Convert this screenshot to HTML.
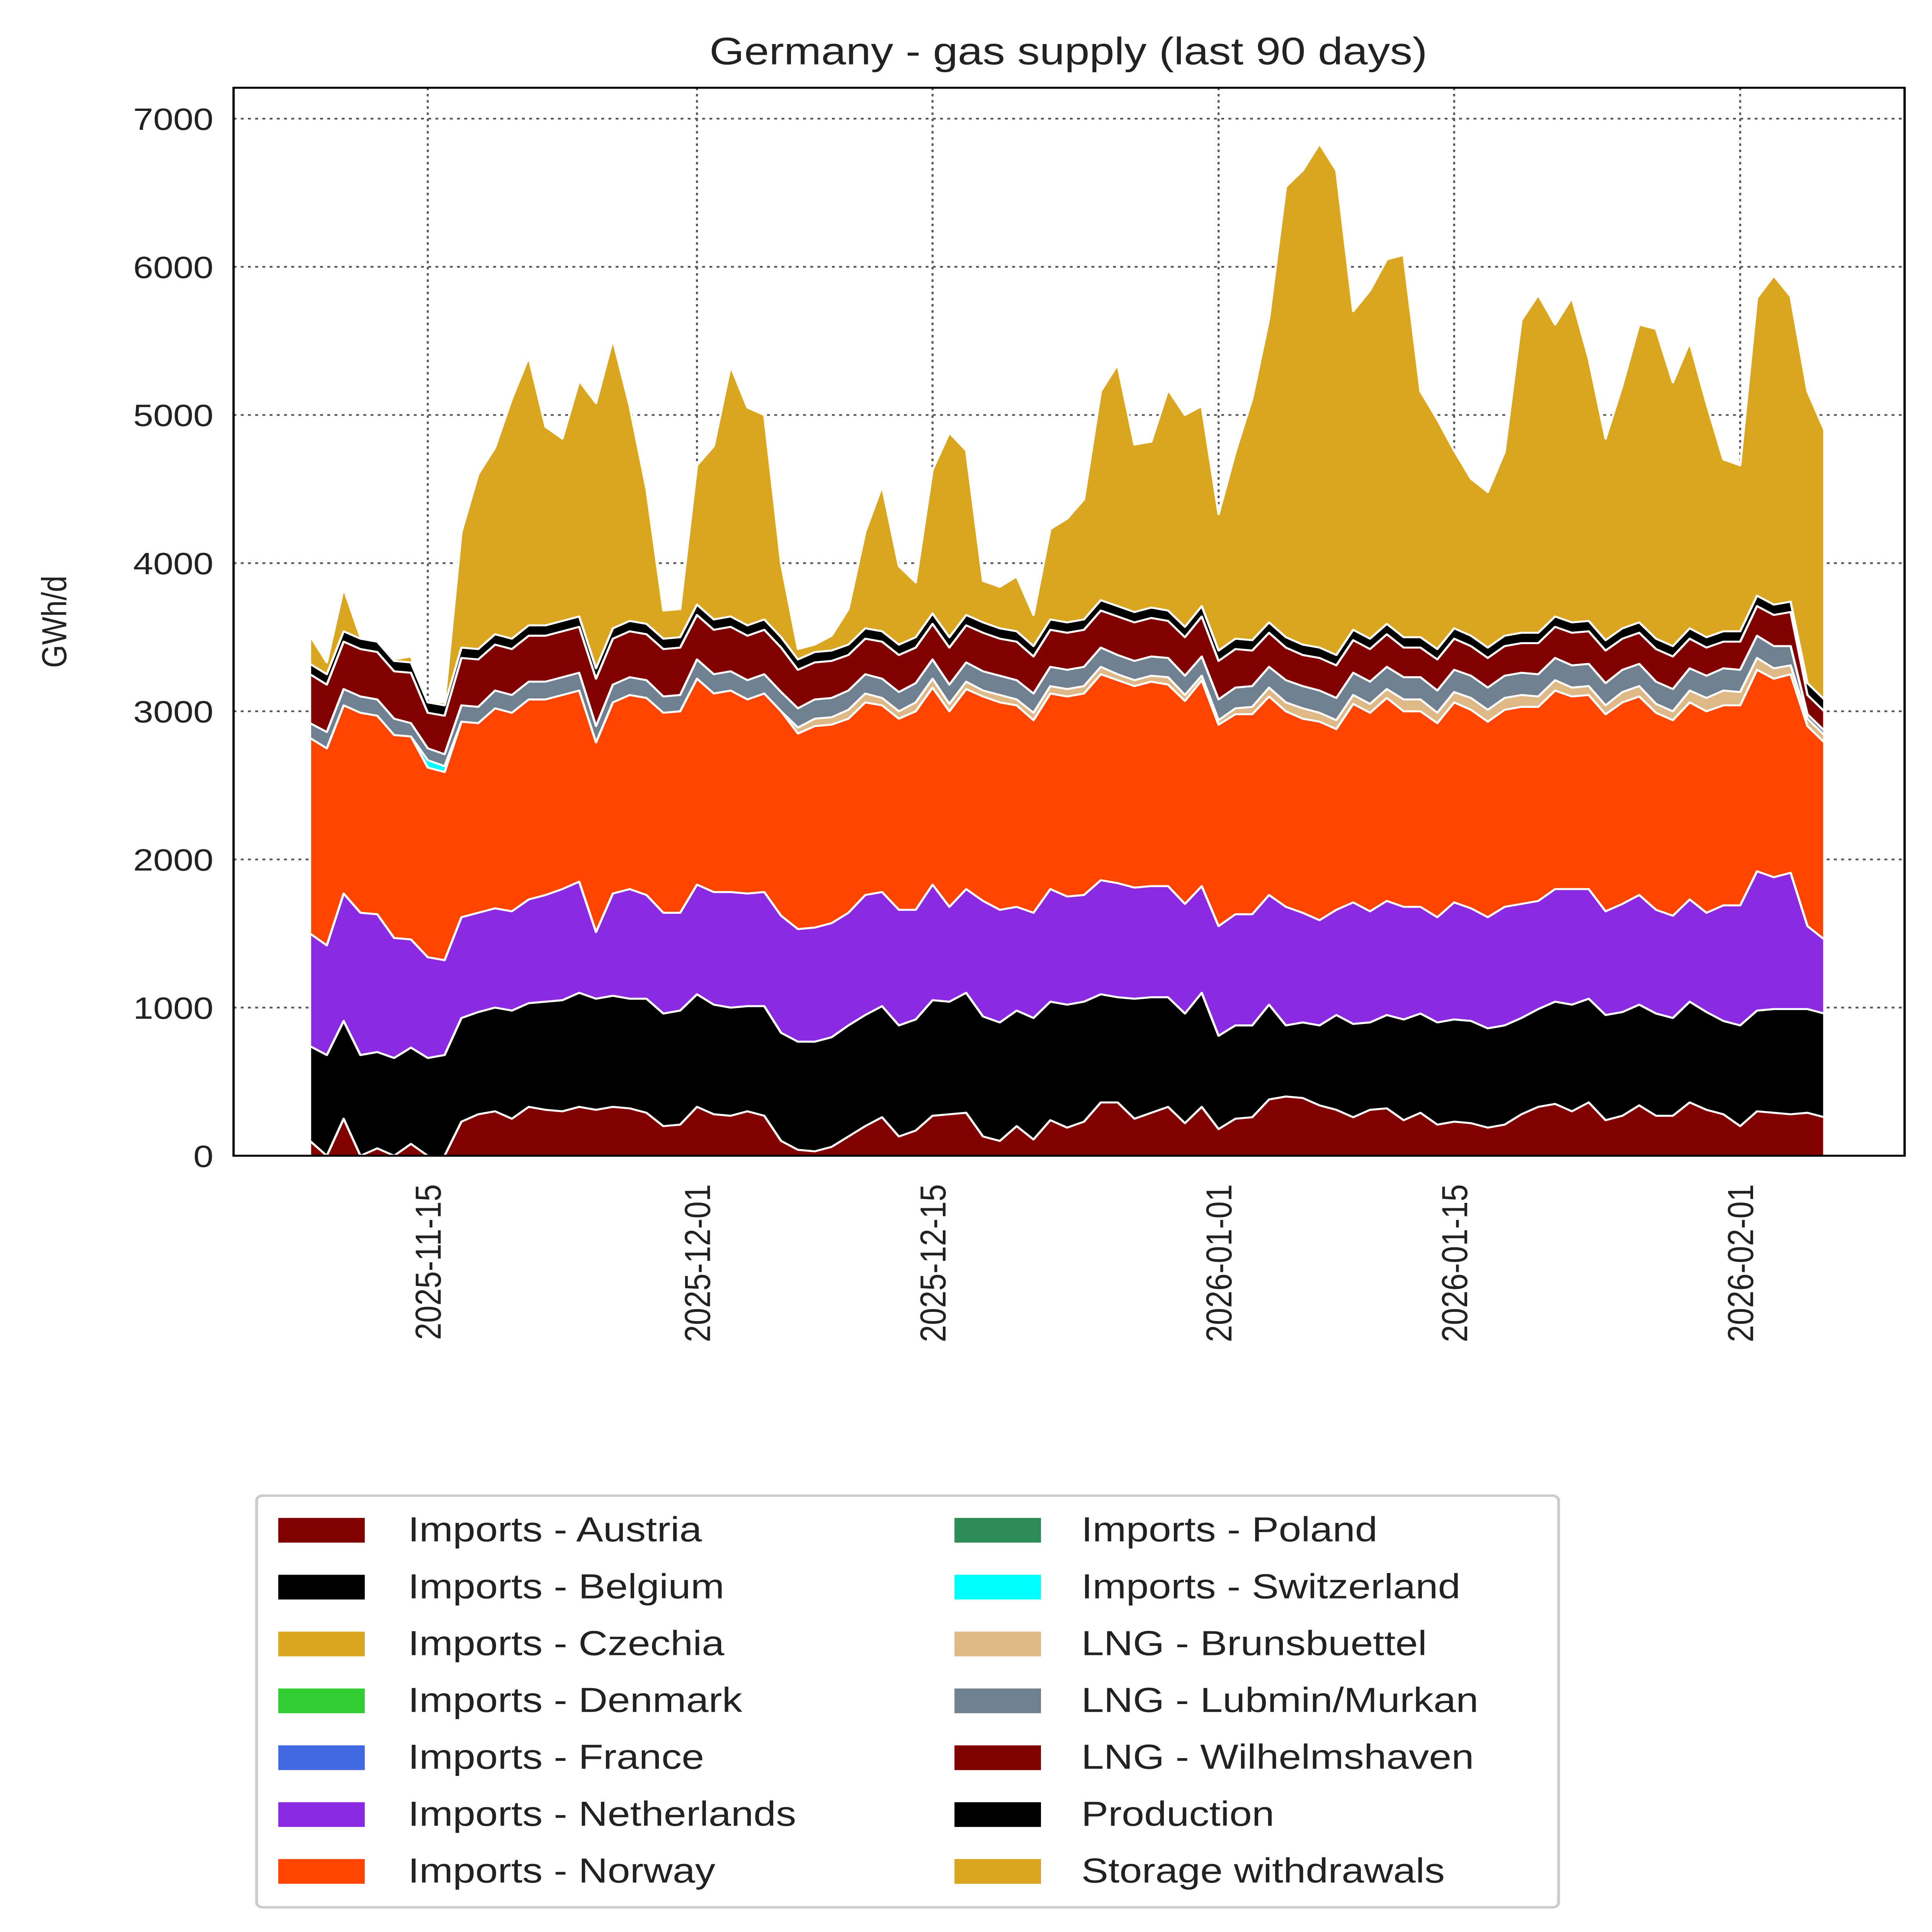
<!DOCTYPE html>
<html><head><meta charset="utf-8"><style>
html,body{margin:0;padding:0;background:#fff;width:100%;height:100%;overflow:hidden;}
svg{display:block;position:fixed;left:0;top:0;width:100vw;height:100vh;font-family:"Liberation Sans","DejaVu Sans",sans-serif;}
</style></head><body>
<svg id="chart" viewBox="0 0 1340 1563" preserveAspectRatio="none" xmlns="http://www.w3.org/2000/svg">
<rect x="0" y="0" width="1340" height="1563" fill="#fff"/>
<text x="741" y="52" font-size="31" text-anchor="middle" fill="#222">Germany - gas supply (last 90 days)</text>
<g id="grid"></g>
<g id="areas"></g>
<rect x="162" y="71" width="1159" height="864" fill="none" stroke="#000" stroke-width="1.6"/>
<g id="yticks"></g>
<g id="xticks"></g>
<text transform="translate(46,503) rotate(-90)" font-size="24" text-anchor="middle" fill="#222">GWh/d</text>
<g id="legend"></g>
</svg>
<script>
const seriesNames = ["Imports - Austria","Imports - Belgium","Imports - Czechia","Imports - Denmark","Imports - France","Imports - Netherlands","Imports - Norway","Imports - Poland","Imports - Switzerland","LNG - Brunsbuettel","LNG - Lubmin/Murkan","LNG - Wilhelmshaven","Production","Storage withdrawals"];
const seriesColors = ["#800000","#000000","#DAA520","#32CD32","#4169E1","#8A2BE2","#FF4500","#2E8B57","#00FFFF","#DEB887","#708090","#800000","#000000","#DAA520"];
const austria = [100,0,250,0,50,0,80,0,0,230,280,300,250,330,310,300,330,310,330,320,290,200,210,330,280,270,300,270,100,40,30,60,130,200,260,130,170,270,280,290,130,100,200,110,240,190,230,360,360,250,290,330,220,330,180,250,260,380,400,390,340,310,260,310,320,240,290,210,230,220,190,210,280,330,350,300,360,240,270,340,270,270,360,310,280,200,300,290,280,290,260];
const belgium = [640,680,660,680,650,660,650,660,680,700,690,700,730,700,730,750,770,750,750,740,770,760,770,760,740,730,710,740,730,730,740,740,750,750,750,750,750,780,760,810,810,800,780,820,800,830,810,730,710,810,780,740,740,770,630,630,620,640,480,510,540,640,630,590,630,680,670,690,690,690,670,670,650,660,690,720,700,710,700,680,690,660,680,660,630,680,680,700,710,700,700];
const netherlands = [760,740,860,960,930,810,730,680,640,680,670,670,670,700,720,750,750,450,690,740,700,680,660,740,760,780,760,770,790,760,770,770,760,810,770,780,740,780,640,700,780,760,700,710,760,730,720,770,770,750,750,750,740,720,740,750,750,740,800,740,710,710,820,750,770,760,720,710,790,760,750,800,770,730,760,780,740,700,730,740,700,690,690,670,780,810,940,890,920,560,500];
const norway = [1320,1330,1270,1350,1340,1370,1370,1280,1270,1320,1280,1350,1340,1350,1320,1310,1290,1280,1290,1310,1330,1350,1360,1390,1340,1360,1310,1340,1380,1320,1360,1340,1310,1300,1260,1290,1340,1330,1320,1350,1380,1400,1360,1300,1320,1350,1360,1390,1370,1360,1380,1360,1370,1390,1360,1350,1350,1340,1320,1310,1340,1220,1340,1340,1370,1320,1320,1310,1350,1340,1320,1330,1330,1310,1340,1300,1310,1330,1360,1340,1330,1320,1330,1360,1350,1350,1360,1340,1340,1350,1330];
const switzerland = [0,0,0,0,0,0,0,50,40];
const brunsbuettel = [0,0,0,0,0,0,0,0,0,0,0,0,0,0,0,0,0,0,0,0,0,0,0,0,0,0,0,0,0,40,50,50,60,60,50,50,60,60,50,50,40,50,40,50,50,50,50,50,40,40,40,50,40,30,30,40,50,60,60,70,60,60,60,60,60,80,80,70,70,80,80,80,80,70,70,60,60,60,70,70,60,60,80,90,100,90,80,70,60,50,50];
const lubmin = [100,110,110,110,110,110,90,80,80,110,110,120,120,120,120,120,120,110,120,120,120,110,110,130,130,130,130,130,130,130,130,130,130,130,130,130,130,130,130,130,130,130,130,130,130,130,130,130,130,130,130,130,130,130,140,140,140,140,150,150,150,150,150,150,150,150,150,150,150,150,150,150,150,150,150,150,150,150,150,150,150,150,150,150,150,150,150,150,130,30,30];
const wilhelmshaven = [330,320,320,320,320,320,340,240,260,320,320,310,310,310,310,310,310,320,310,310,310,320,320,300,300,300,300,300,300,260,250,250,240,240,250,250,240,240,250,250,260,250,260,250,250,250,250,250,260,260,260,250,260,270,260,260,240,230,220,210,220,220,220,220,220,200,200,210,210,200,200,200,200,210,210,220,220,220,210,210,220,220,200,190,180,190,200,210,230,130,130];
const production = [70,70,70,70,70,70,70,70,70,70,70,70,70,70,70,70,70,70,70,70,70,70,70,70,70,70,70,70,70,70,70,70,70,70,70,70,70,70,70,70,70,70,70,70,70,70,70,70,70,70,70,70,70,70,70,70,70,70,70,70,70,70,70,70,70,70,70,70,70,70,70,70,70,70,70,70,70,70,70,70,70,70,70,70,70,70,70,70,70,80,80];
const storage = [190,80,290,10,0,10,40,0,20,780,1180,1260,1620,1810,1340,1230,1590,1790,1950,1450,910,190,190,940,1170,1690,1470,1380,500,70,50,100,240,650,980,530,370,970,1380,1110,280,280,370,210,610,700,810,1410,1630,1130,1120,1490,1430,1350,920,1260,1630,2050,3040,3200,3400,3270,2150,2350,2460,2580,1660,1550,1200,1060,1050,1240,2110,2280,1970,2190,1770,1360,1640,2010,2090,1780,1930,1580,1160,1120,2010,2220,2060,1970,1820];
const czechia = [], denmark = [], france = [], poland = [];
const yTicks = [0,1000,2000,3000,4000,5000,6000,7000];
const xTickLabels = ["2025-11-15","2025-12-01","2025-12-15","2026-01-01","2026-01-15","2026-02-01"];
const xTickDays = [7,23,37,54,68,85];
const nDays = 91;

const NS = "http://www.w3.org/2000/svg";
function yScale(v){ return 935 - v * (839/7000); }
function xScale(d){ return 215 + d * 11.67; }
function mk(tag, attrs, parent){ const e = document.createElementNS(NS, tag); for (const k in attrs) e.setAttribute(k, attrs[k]); parent.appendChild(e); return e; }

const allSeries = [austria,belgium,czechia,denmark,france,netherlands,norway,poland,switzerland,brunsbuettel,lubmin,wilhelmshaven,production,storage];
const grid = document.getElementById('grid');
yTicks.forEach(t => {
  const l = mk('line', {x1:162, x2:1321, y1:yScale(t), y2:yScale(t), stroke:'#555', 'stroke-width':1.4, 'stroke-dasharray':'2,3'}, grid);
  
  
});
xTickDays.forEach(d => {
  const l = mk('line', {x1:xScale(d), x2:xScale(d), y1:71, y2:935, stroke:'#555', 'stroke-width':1.4, 'stroke-dasharray':'2,3'}, grid);
  
  
});

const areas = document.getElementById('areas');
let base = new Array(nDays).fill(0);
allSeries.forEach((s, si) => {
  const top = base.map((b, i) => b + (s[i] || 0));
  let d = '';
  for (let i = 0; i < nDays; i++) d += (i ? 'L' : 'M') + xScale(i).toFixed(2) + ',' + yScale(top[i]).toFixed(2);
  for (let i = nDays - 1; i >= 0; i--) d += 'L' + xScale(i).toFixed(2) + ',' + yScale(base[i]).toFixed(2);
  d += 'Z';
  const p = mk('path', {d:d, fill:seriesColors[si], stroke:'#fff', 'stroke-width':1.6, 'stroke-linejoin':'round'}, areas);
  
  
  base = top;
});

const yt = document.getElementById('yticks');
yTicks.forEach(t => {
  const tx = mk('text', {x:148, y:yScale(t) + 9, 'font-size':25, 'text-anchor':'end', fill:'#222'}, yt);
  tx.textContent = String(t);
  
  
});
const xt = document.getElementById('xticks');
xTickDays.forEach((d, i) => {
  const x = xScale(d);
  const tx = mk('text', {transform:'translate(' + (x + 9) + ',958) rotate(-90)', 'font-size':25, 'text-anchor':'end', fill:'#222'}, xt);
  tx.textContent = xTickLabels[i];
  
  
});

const lg = document.getElementById('legend');
const box = mk('rect', {x:178, y:1210, width:903, height:333, rx:4, fill:'#fff', stroke:'#ccc', 'stroke-width':2}, lg);


seriesNames.forEach((n, i) => {
  const col = i < 7 ? 0 : 1;
  const row = i % 7;
  const px = col ? 662 : 193;
  const y = 1237 + row * 46;
  const r = mk('rect', {x:px, y:y - 9, width:60, height:20, fill:seriesColors[i]}, lg);
  
  
  const t = mk('text', {x:col ? 750 : 283, y:y + 10, 'font-size':28, fill:'#222'}, lg);
  t.textContent = n;
  
  
});
</script>
</body></html>
